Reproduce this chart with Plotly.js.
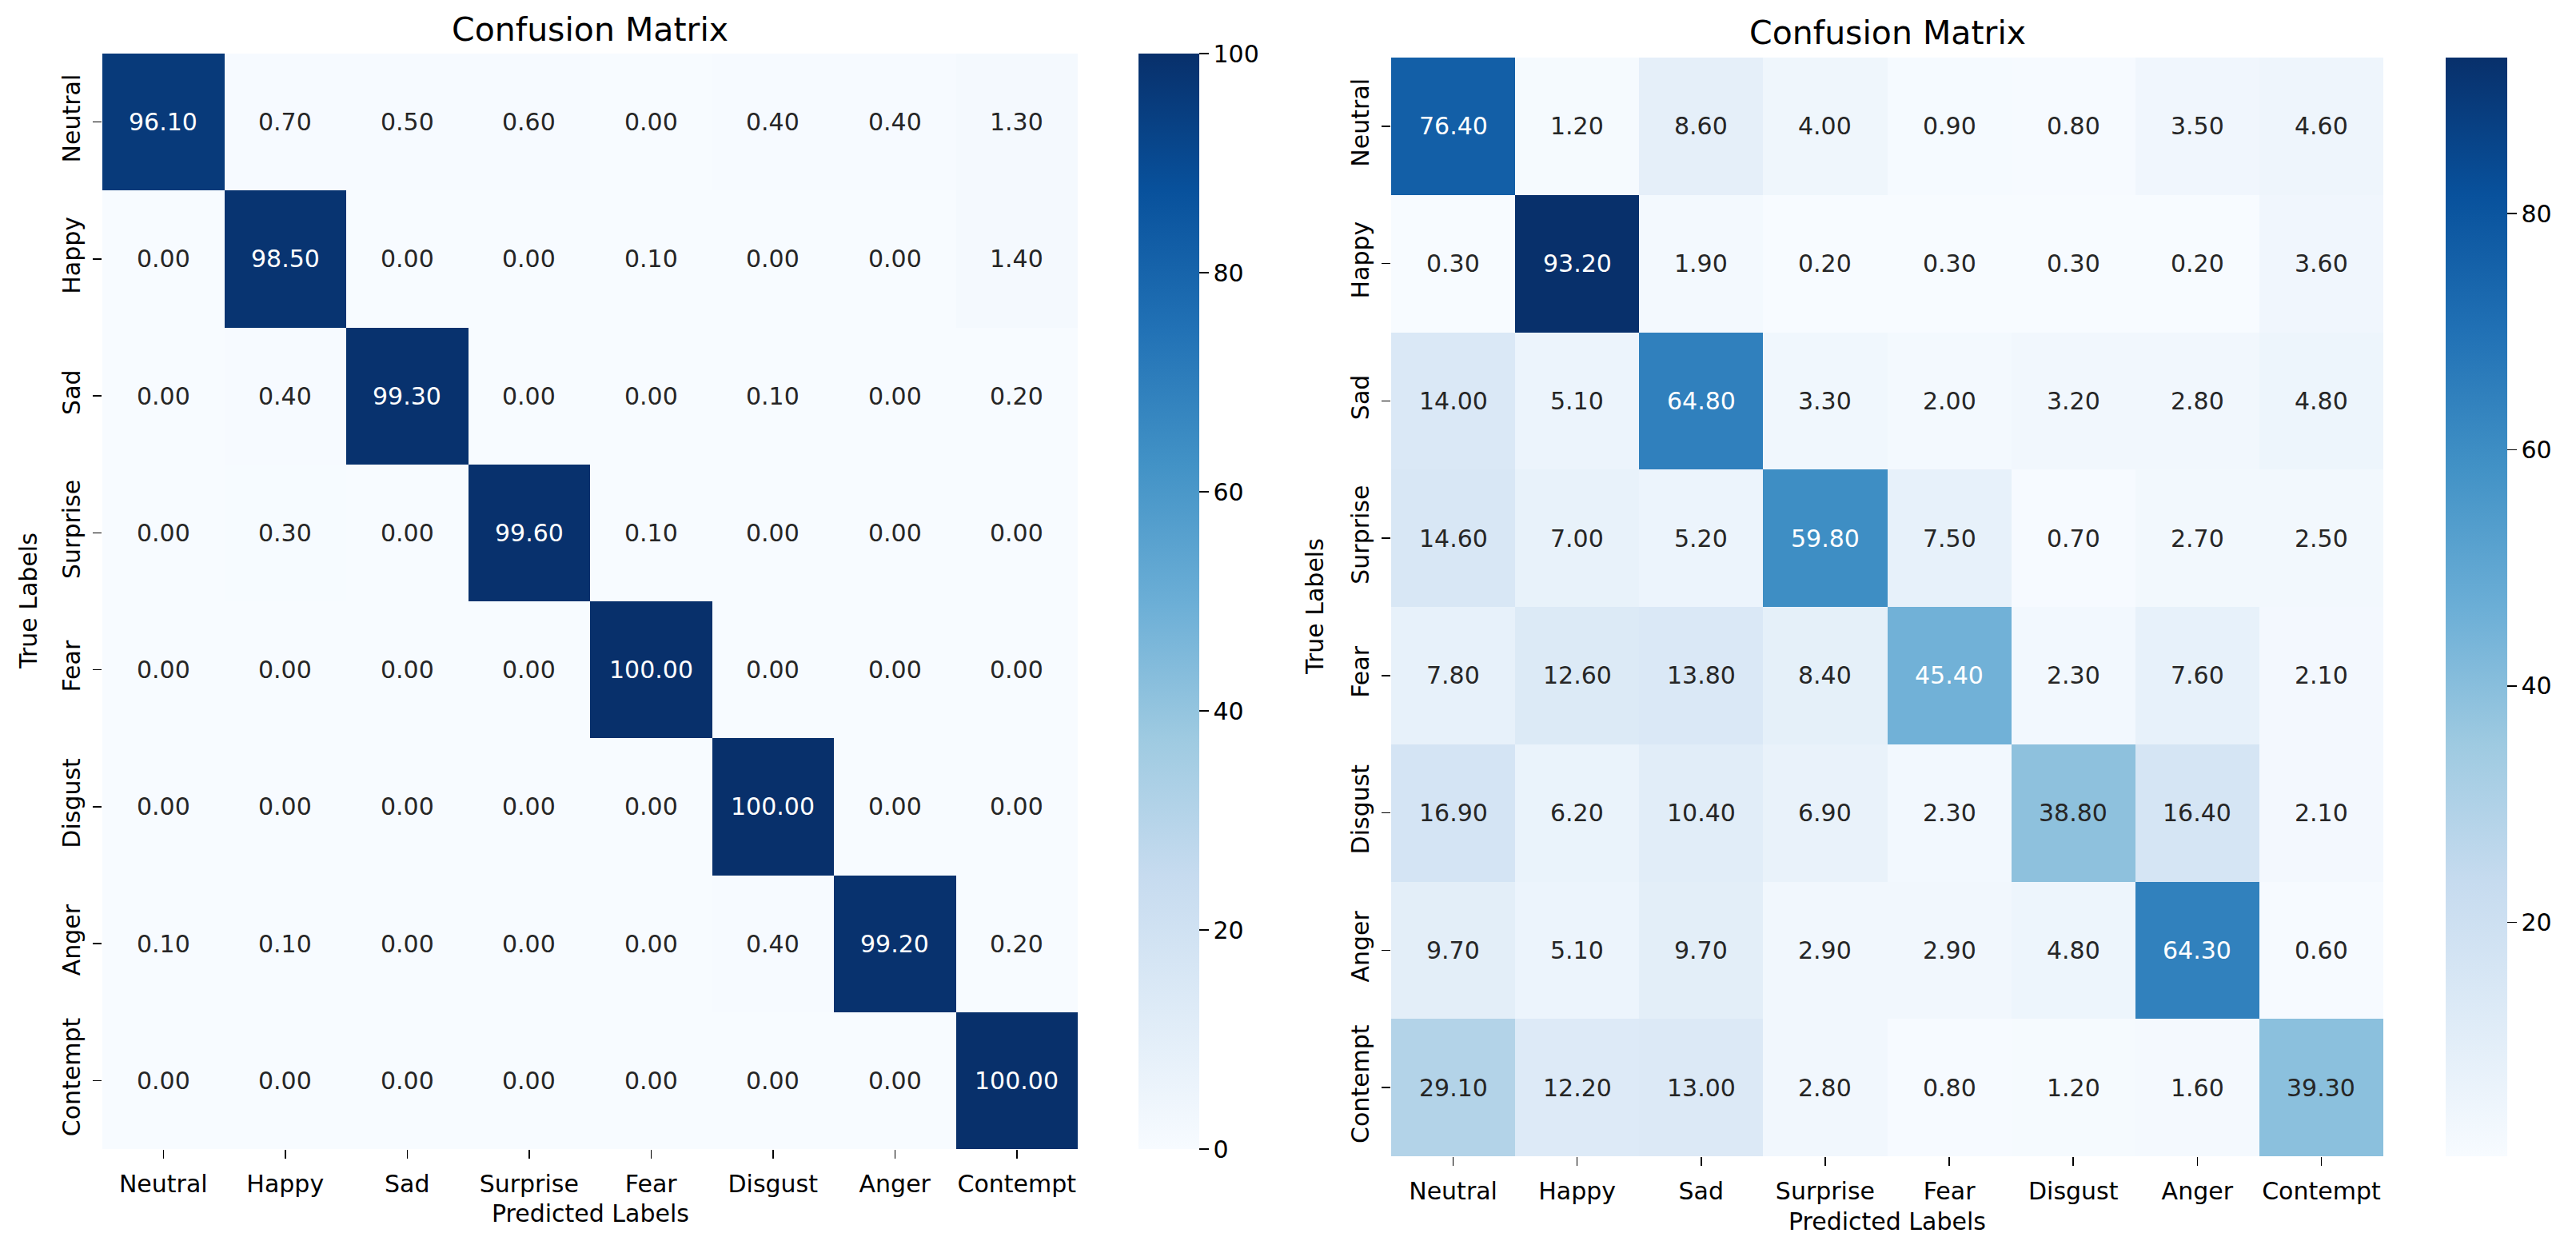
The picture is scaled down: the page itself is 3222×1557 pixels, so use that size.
<!DOCTYPE html>
<html>
<head>
<meta charset="utf-8">
<script src="https://cdn.plot.ly/plotly-3.0.1.min.js"></script>
<style>html,body{margin:0;padding:0;background:#fff;}#chart{width:3222px;height:1557px;}</style>
</head>
<body>
<div id="chart"></div>
<script>
// ---- data ----
const labels = ['Neutral','Happy','Sad','Surprise','Fear','Disgust','Anger','Contempt'];
const cmLeft = [
  [96.10, 0.70, 0.50, 0.60, 0.00, 0.40, 0.40, 1.30],
  [0.00, 98.50, 0.00, 0.00, 0.10, 0.00, 0.00, 1.40],
  [0.00, 0.40, 99.30, 0.00, 0.00, 0.10, 0.00, 0.20],
  [0.00, 0.30, 0.00, 99.60, 0.10, 0.00, 0.00, 0.00],
  [0.00, 0.00, 0.00, 0.00, 100.00, 0.00, 0.00, 0.00],
  [0.00, 0.00, 0.00, 0.00, 0.00, 100.00, 0.00, 0.00],
  [0.10, 0.10, 0.00, 0.00, 0.00, 0.40, 99.20, 0.20],
  [0.00, 0.00, 0.00, 0.00, 0.00, 0.00, 0.00, 100.00]
];
const cmRight = [
  [76.40, 1.20, 8.60, 4.00, 0.90, 0.80, 3.50, 4.60],
  [0.30, 93.20, 1.90, 0.20, 0.30, 0.30, 0.20, 3.60],
  [14.00, 5.10, 64.80, 3.30, 2.00, 3.20, 2.80, 4.80],
  [14.60, 7.00, 5.20, 59.80, 7.50, 0.70, 2.70, 2.50],
  [7.80, 12.60, 13.80, 8.40, 45.40, 2.30, 7.60, 2.10],
  [16.90, 6.20, 10.40, 6.90, 2.30, 38.80, 16.40, 2.10],
  [9.70, 5.10, 9.70, 2.90, 2.90, 4.80, 64.30, 0.60],
  [29.10, 12.20, 13.00, 2.80, 0.80, 1.20, 1.60, 39.30]
];
const leftTicks = [0, 20, 40, 60, 80, 100];
const rightTicks = [20, 40, 60, 80];
const titleText = 'Confusion Matrix';
const xTitle = 'Predicted Labels';
const yTitle = 'True Labels';

// ---- style ----
const W = 3222, H = 1557;
const FONT = 'DejaVu Sans';
const bluesHex = ['#f7fbff','#deebf7','#c6dbef','#9ecae1','#6baed6','#4292c6','#2171b5','#08519c','#08306b'];
const blues = bluesHex.map((c, i) => [i / (bluesHex.length - 1), c]);

function px2x(p) { return p / W; }
function px2y(p) { return 1 - p / H; }

function hexToRgb(h) {
  return [parseInt(h.slice(1,3),16), parseInt(h.slice(3,5),16), parseInt(h.slice(5,7),16)];
}
function colorAt(t) {
  t = Math.max(0, Math.min(1, t));
  const n = bluesHex.length - 1;
  const f = t * n;
  const i = Math.min(n - 1, Math.floor(f));
  const u = f - i;
  const a = hexToRgb(bluesHex[i]), b = hexToRgb(bluesHex[i + 1]);
  return a.map((v, k) => v + (b[k] - v) * u);
}
function luminance(rgb) {
  const lin = rgb.map(v => { v = v / 255; return v <= 0.03928 ? v / 12.92 : Math.pow((v + 0.055) / 1.055, 2.4); });
  return 0.2126 * lin[0] + 0.7152 * lin[1] + 0.0722 * lin[2];
}

const panels = [
  { z: cmLeft, xa: 'x', ya: 'y', box: [128, 1348, 67, 1437], cb: [1424, 1500], ticks: leftTicks,
    zmin: 0, zmax: 100, titleY: 37, yTitleX: 35, xTitleY: 1517 },
  { z: cmRight, xa: 'x2', ya: 'y2', box: [1740, 2981, 72, 1446], cb: [3059, 3136], ticks: rightTicks,
    zmin: Math.min(...cmRight.flat()), zmax: Math.max(...cmRight.flat()), titleY: 41, yTitleX: 1644, xTitleY: 1527 }
];

const data = [];
const annotations = [];
const layout = {
  width: W, height: H,
  margin: { l: 0, r: 0, t: 0, b: 0, pad: 0 },
  paper_bgcolor: '#ffffff', plot_bgcolor: '#ffffff',
  font: { family: FONT, size: 30, color: '#000000' },
  showlegend: false,
  annotations: annotations
};

panels.forEach((p, idx) => {
  const [x0, x1, y0, y1] = p.box;
  data.push({
    type: 'heatmap',
    x: labels, y: labels, z: p.z,
    xaxis: p.xa, yaxis: p.ya,
    colorscale: blues, zmin: p.zmin, zmax: p.zmax,
    hoverinfo: 'skip',
    colorbar: {
      x: px2x(p.cb[0]), xanchor: 'left', xref: 'paper',
      y: px2y(y0), yanchor: 'top', yref: 'paper',
      len: y1 - y0, lenmode: 'pixels',
      thickness: p.cb[1] - p.cb[0], thicknessmode: 'pixels',
      xpad: 0, ypad: 0, outlinewidth: 0,
      tickmode: 'array', tickvals: p.ticks, ticktext: p.ticks.map(String),
      ticks: 'outside', ticklen: 12, tickwidth: 1.5, tickcolor: '#000',
      tickfont: { family: FONT, size: 30, color: '#000' }
    }
  });
  const sfx = idx === 0 ? '' : '2';
  layout['xaxis' + sfx] = {
    domain: [px2x(x0), px2x(x1)], anchor: p.ya,
    type: 'category', showgrid: false, zeroline: false, showline: false,
    ticks: 'outside', ticklen: 11, tickwidth: 1.5, tickcolor: '#000',
    tickfont: { family: FONT, size: 30, color: '#000' }, tickangle: 0,
    ticklabelstandoff: 6, automargin: false, fixedrange: true
  };
  layout['yaxis' + sfx] = {
    domain: [px2y(y1), px2y(y0)], anchor: p.xa,
    type: 'category', autorange: 'reversed', showgrid: false, zeroline: false, showline: false,
    ticks: 'outside', ticklen: 11, tickwidth: 1.5, tickcolor: '#000',
    tickfont: { family: FONT, size: 30, color: '#000' }, tickangle: -90,
    ticklabelstandoff: 4, automargin: false, fixedrange: true
  };
  // cell value labels
  p.z.forEach((row, i) => {
    row.forEach((v, j) => {
      const lum = luminance(colorAt((v - p.zmin) / (p.zmax - p.zmin)));
      annotations.push({
        x: labels[j], y: labels[i], xref: p.xa, yref: p.ya,
        text: v.toFixed(2), showarrow: false,
        font: { family: FONT, size: 30, color: lum > 0.408 ? '#262626' : '#ffffff' }
      });
    });
  });
  // titles
  annotations.push({
    x: px2x((x0 + x1) / 2), y: px2y(p.titleY), xref: 'paper', yref: 'paper',
    text: titleText, showarrow: false, xanchor: 'center', yanchor: 'middle',
    font: { family: FONT, size: 41, color: '#000' }
  });
  annotations.push({
    x: px2x((x0 + x1) / 2), y: px2y(p.xTitleY), xref: 'paper', yref: 'paper',
    text: xTitle, showarrow: false, xanchor: 'center', yanchor: 'middle',
    font: { family: FONT, size: 30, color: '#000' }
  });
  annotations.push({
    x: px2x(p.yTitleX), y: px2y((y0 + y1) / 2), xref: 'paper', yref: 'paper',
    text: yTitle, showarrow: false, xanchor: 'center', yanchor: 'middle', textangle: -90,
    font: { family: FONT, size: 30, color: '#000' }
  });
});

Plotly.newPlot('chart', data, layout, { staticPlot: true, displayModeBar: false });
</script>
</body>
</html>
